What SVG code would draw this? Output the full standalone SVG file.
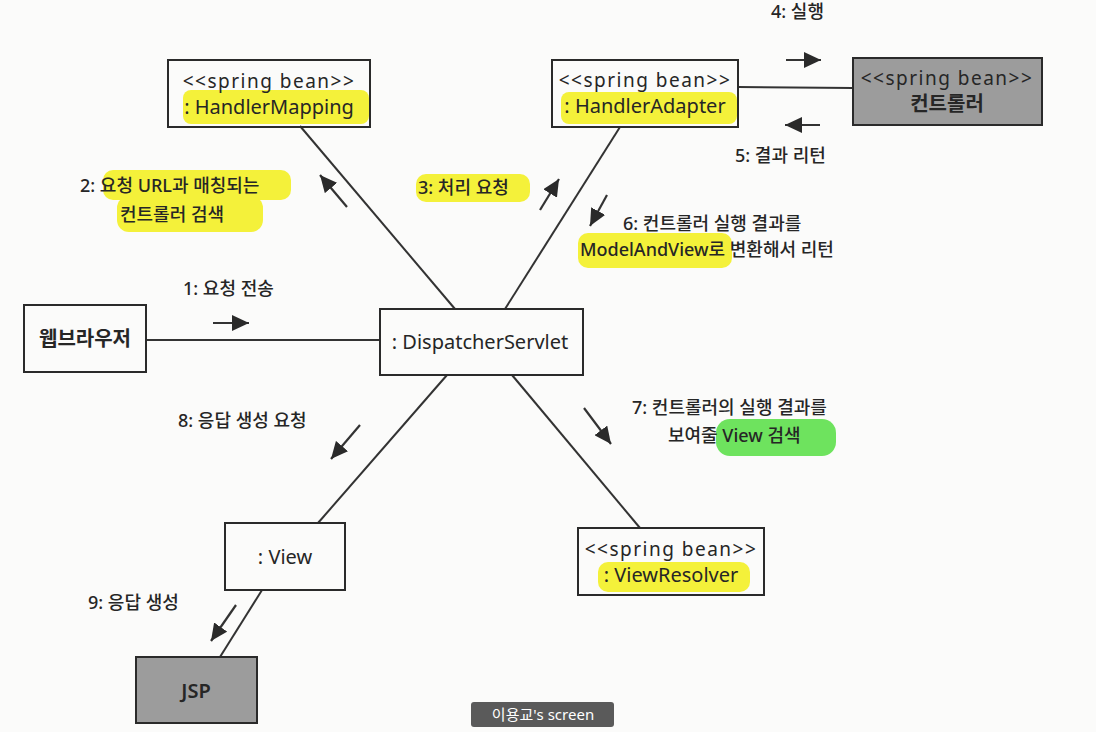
<svg xmlns="http://www.w3.org/2000/svg" width="1096" height="732" viewBox="0 0 1096 732">
<defs>
<style>
text{font-family:"Noto Sans","Noto Sans CJK KR",sans-serif;fill:#262626}
.box{fill:none;stroke:#2a2a2a;stroke-width:2}
.dark{fill:#9c9c9c;stroke:#2a2a2a;stroke-width:2}
.ln{stroke:#333;stroke-width:2;fill:none}
.ar{stroke:#333;stroke-width:2.2;fill:none;marker-end:url(#head)}
.lbl{font-size:18px;font-weight:500}
.nd{font-size:20px}
.st{font-size:19px;letter-spacing:1.5px}
.hy{fill:#f4f13a}
.hg{fill:#6ee35e}
</style>
<marker id="head" markerUnits="userSpaceOnUse" markerWidth="18" markerHeight="16" refX="17" refY="8" orient="auto">
<path d="M0,0 L17,8 L0,16 Z" fill="#2a2a2a"/>
</marker>
</defs>
<rect x="0" y="0" width="1096" height="732" fill="#fbfbfa"/>

<g id="highlights">
<rect class="hy" x="183" y="90" width="186" height="34" rx="8"/>
<rect class="hy" x="561" y="92" width="176" height="32" rx="8"/>
<rect class="hy" x="103" y="170" width="188" height="30" rx="10"/>
<rect class="hy" x="117" y="196" width="146" height="36" rx="12"/>
<rect class="hy" x="416" y="174" width="114" height="28" rx="10"/>
<rect class="hy" x="578" y="233" width="154" height="35" rx="10"/>
<rect class="hy" x="598" y="562" width="152" height="30" rx="10"/>
<rect class="hg" x="716" y="419" width="120" height="37" rx="14"/>
</g>

<g id="connectors">
<line class="ln" x1="146" y1="340" x2="380" y2="340"/>
<line class="ln" x1="300" y1="126" x2="455" y2="309"/>
<line class="ln" x1="620" y1="127" x2="505" y2="309"/>
<line class="ln" x1="738" y1="87" x2="853" y2="88"/>
<line class="ln" x1="447" y1="375" x2="318" y2="523"/>
<line class="ln" x1="512" y1="375" x2="640" y2="528"/>
<line class="ln" x1="262" y1="590" x2="220" y2="657"/>
<line class="ar" x1="213" y1="323" x2="249" y2="323"/>
<line class="ar" x1="347" y1="207" x2="320" y2="175"/>
<line class="ar" x1="540" y1="210" x2="559" y2="179"/>
<line class="ar" x1="786" y1="60" x2="821" y2="60"/>
<line class="ar" x1="820" y1="125" x2="785" y2="125"/>
<line class="ar" x1="607" y1="195" x2="590" y2="226"/>
<line class="ar" x1="584" y1="408" x2="611" y2="444"/>
<line class="ar" x1="360" y1="425" x2="331" y2="459"/>
<line class="ar" x1="236" y1="605" x2="211" y2="641"/>
</g>

<g id="labels">
<text class="lbl" x="183" y="295">1: 요청 전송</text>
<text class="lbl" x="80" y="192">2: 요청 URL과 매칭되는</text>
<text class="lbl" x="120" y="221">컨트롤러 검색</text>
<text class="lbl" x="418" y="194">3: 처리 요청</text>
<text class="lbl" x="771" y="18">4: 실행</text>
<text class="lbl" x="735" y="162">5: 결과 리턴</text>
<text class="lbl" x="623" y="230">6: 컨트롤러 실행 결과를</text>
<text class="lbl" x="580" y="256">ModelAndView로 변환해서 리턴</text>
<text class="lbl" x="632" y="414">7: 컨트롤러의 실행 결과를</text>
<text class="lbl" x="668" y="442">보여줄 View 검색</text>
<text class="lbl" x="178" y="427">8: 응답 생성 요청</text>
<text class="lbl" x="88" y="609">9: 응답 생성</text>
</g>

<g id="handlerMapping">
<rect class="box" x="168" y="60" width="202" height="67"/>
<text class="st" x="269" y="88" text-anchor="middle">&lt;&lt;spring bean&gt;&gt;</text>
<text class="nd" x="269" y="114" text-anchor="middle">: HandlerMapping</text>
</g>

<g id="handlerAdapter">
<rect class="box" x="552" y="60" width="186" height="67"/>
<text class="st" x="645" y="87" text-anchor="middle">&lt;&lt;spring bean&gt;&gt;</text>
<text class="nd" x="645" y="113" text-anchor="middle">: HandlerAdapter</text>
</g>

<g id="controller">
<rect class="dark" x="853" y="58" width="189" height="67"/>
<text class="st" x="947" y="85" text-anchor="middle">&lt;&lt;spring bean&gt;&gt;</text>
<text class="nd" x="947" y="111" text-anchor="middle" font-weight="600">컨트롤러</text>
</g>

<g id="webBrowser">
<rect class="box" x="24" y="305" width="122" height="67"/>
<text class="nd" x="85" y="346" text-anchor="middle" font-weight="600">웹브라우저</text>
</g>

<g id="dispatcherServlet">
<rect class="box" x="380" y="309" width="203" height="66"/>
<text class="nd" x="480" y="349" text-anchor="middle">: DispatcherServlet</text>
</g>

<g id="view">
<rect class="box" x="225" y="523" width="120" height="67"/>
<text class="nd" x="285" y="564" text-anchor="middle">: View</text>
</g>

<g id="viewResolver">
<rect class="box" x="578" y="528" width="186" height="67"/>
<text class="st" x="671" y="556" text-anchor="middle">&lt;&lt;spring bean&gt;&gt;</text>
<text class="nd" x="671" y="582" text-anchor="middle">: ViewResolver</text>
</g>

<g id="jsp">
<rect class="dark" x="136" y="657" width="121" height="66"/>
<text class="nd" x="196" y="698" text-anchor="middle" font-weight="600">JSP</text>
</g>

<g id="screenTag">
<rect x="471" y="702" width="143" height="25" rx="3" fill="#5a5a5a"/>
<text x="543" y="720" text-anchor="middle" font-size="15" style="fill:#fff">이용교's screen</text>
</g>
</svg>
